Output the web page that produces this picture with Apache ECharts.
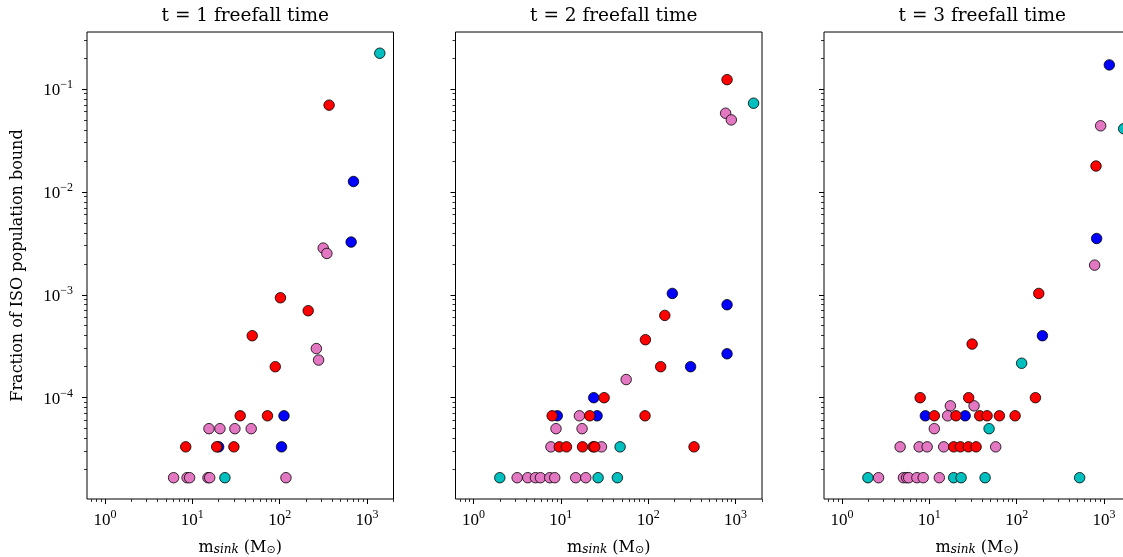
<!DOCTYPE html>
<html><head><meta charset="utf-8">
<script src="https://cdn.jsdelivr.net/npm/echarts@6/dist/echarts.min.js"></script>
<style>html,body{margin:0;padding:0;background:#fff}#c{width:1123px;height:557px}</style>
</head><body><div id="c"></div>
<script>
// ---------- data ----------
const panelTitles = ['t = 1 freefall time', 't = 2 freefall time', 't = 3 freefall time'];
const xTickValues = [1, 10, 100, 1000];
const yTickValues = [1e-4, 1e-3, 1e-2, 1e-1];
const yAxisTitle = 'Fraction of ISO population bound';

// t = 1
const t1Red = [[368,0.0695],[102,9.35e-4],[212,7.0e-4],[48.5,4.0e-4],[89,2.0e-4],[35.3,6.67e-5],[72.5,6.67e-5],[8.4,3.33e-5],[19,3.33e-5],[29.9,3.33e-5]];
const t1Blue = [[700,0.0126],[658,3.25e-3],[112,6.67e-5],[20,3.33e-5],[105,3.33e-5]];
const t1Cyan = [[1400,0.222],[23.6,1.67e-5]];
const t1Pink = [[315,2.84e-3],[347,2.52e-3],[263,3.0e-4],[279,2.32e-4],[15.5,5e-5],[20.7,5e-5],[30.7,5e-5],[47.2,5e-5],[6.1,1.67e-5],[8.7,1.67e-5],[9.3,1.67e-5],[15.1,1.67e-5],[15.8,1.67e-5],[118,1.67e-5]];

// t = 2
const t2Red = [[800,0.123],[155,6.3e-4],[93,3.66e-4],[139,2.0e-4],[31.3,1e-4],[7.95,6.67e-5],[21.4,6.67e-5],[92,6.67e-5],[9.6,3.33e-5],[11.6,3.33e-5],[17.7,3.33e-5],[23.4,3.33e-5],[24.4,3.33e-5],[335,3.33e-5]];
const t2Blue = [[189,1.03e-3],[800,8.0e-4],[800,2.67e-4],[306,2.0e-4],[23.8,1e-4],[9.1,6.67e-5],[26,6.67e-5]];
const t2Cyan = [[1610,0.0726],[47.7,3.33e-5],[2.0,1.67e-5],[26.7,1.67e-5],[44.4,1.67e-5]];
const t2Pink = [[770,0.058],[895,0.05],[56,1.5e-4],[16.3,6.67e-5],[8.8,5e-5],[17.5,5e-5],[7.7,3.33e-5],[29.2,3.33e-5],[3.16,1.67e-5],[4.18,1.67e-5],[5.12,1.67e-5],[5.84,1.67e-5],[7.47,1.67e-5],[8.51,1.67e-5],[14.8,1.67e-5],[19.3,1.67e-5]];

// t = 3
const t3Red = [[810,0.0178],[179,1.03e-3],[30.9,3.32e-4],[164,1e-4],[7.85,1e-4],[28.2,1e-4],[11.4,6.67e-5],[20.2,6.67e-5],[37.7,6.67e-5],[45.8,6.67e-5],[63.4,6.67e-5],[95.9,6.67e-5],[19.0,3.33e-5],[22.7,3.33e-5],[28,3.33e-5],[34.3,3.33e-5]];
const t3Blue = [[1150,0.171],[823,3.52e-3],[197,4.0e-4],[9.0,6.67e-5],[25.7,6.67e-5]];
const t3Cyan = [[1680,0.041],[114,2.16e-4],[48.3,5e-5],[1.98,1.67e-5],[19.0,1.67e-5],[23.1,1.67e-5],[43.5,1.67e-5],[526,1.67e-5]];
const t3Pink = [[915,0.0438],[781,1.94e-3],[17.4,8.33e-5],[32.5,8.33e-5],[16.2,6.67e-5],[11.4,5e-5],[4.63,3.33e-5],[7.64,3.33e-5],[9.44,3.33e-5],[14.6,3.33e-5],[57.5,3.33e-5],[2.62,1.67e-5],[5.05,1.67e-5],[5.5,1.67e-5],[5.8,1.67e-5],[7.2,1.67e-5],[8.5,1.67e-5],[13,1.67e-5]];

// ---------- styling / layout ----------
const FONT = 'Liberation Serif';
const TFONT = 'DejaVu Serif';
const COLORS = { red: '#ff0000', blue: '#0000ff', cyan: '#00bfbf', pink: '#e377c2' };
const X_MIN = 0.622, X_MAX = 2010, Y_MIN = 1.037e-5, Y_MAX = 0.357;
const GRID_LEFT = [87, 455.5, 824], GRID_TOP = 32, GRID_W = 306.5, GRID_H = 467;

const panels = [
  { blue: t1Blue, cyan: t1Cyan, pink: t1Pink, red: t1Red },
  { blue: t2Blue, cyan: t2Cyan, pink: t2Pink, red: t2Red },
  { blue: t3Blue, cyan: t3Cyan, pink: t3Pink, red: t3Red }
];

function minorTicks(lo, hi) {
  const out = [];
  for (let e = -6; e <= 4; e++) for (let m = 2; m <= 9; m++) {
    const v = m * Math.pow(10, e);
    if (v > lo && v < hi) out.push(v);
  }
  return out;
}
const xMinor = minorTicks(X_MIN, X_MAX);
const yMinor = minorTicks(Y_MIN, Y_MAX);

function supLabel(v) {
  const e = Math.round(Math.log10(v));
  return '{b|10}{s|' + (e < 0 ? '\u2212' + (-e) : String(e)) + '}';
}
const labelRich = {
  b: { fontFamily: FONT, fontSize: 17, color: '#000', lineHeight: 20, verticalAlign: 'bottom' },
  s: { fontFamily: FONT, fontSize: 12, color: '#000', lineHeight: 12, verticalAlign: 'top' }
};

const grid = [], xAxis = [], yAxis = [], series = [], title = [];
for (let i = 0; i < 3; i++) {
  grid.push({ left: GRID_LEFT[i], top: GRID_TOP, width: GRID_W, height: GRID_H, show: true,
              containLabel: false, outerBoundsMode: 'none',
              borderColor: '#000', borderWidth: 1, backgroundColor: '#fff' });
  title.push({ text: panelTitles[i], left: GRID_LEFT[i] + GRID_W / 2, top: 2,
               textAlign: 'center', textStyle: { fontFamily: TFONT, fontSize: 18.5, fontWeight: 'normal', color: '#000' } });
  // major x
  xAxis.push({ type: 'log', logBase: 10, gridIndex: i, min: X_MIN, max: X_MAX, position: 'bottom',
    axisLine: { show: false }, splitLine: { show: false },
    axisTick: { show: true, customValues: xTickValues, length: 5, lineStyle: { color: '#000', width: 1 } },
    axisLabel: { show: true, customValues: xTickValues, formatter: supLabel, rich: labelRich, margin: 10 },
    name: '{n|m}{i|sink}{n| (M}{o|\u2299}{n|)}', nameLocation: 'middle', nameGap: 37,
    nameTextStyle: { rich: {
      n: { fontFamily: TFONT, fontSize: 16, color: '#000', lineHeight: 20, verticalAlign: 'bottom' },
      i: { fontFamily: TFONT, fontSize: 12, fontStyle: 'italic', color: '#000', lineHeight: 14, verticalAlign: 'bottom' },
      o: { fontFamily: 'DejaVu Sans', fontSize: 11, color: '#000', lineHeight: 12, verticalAlign: 'bottom' }
    } }
  });
  // minor x
  xAxis.push({ type: 'log', logBase: 10, gridIndex: i, min: X_MIN, max: X_MAX, position: 'bottom',
    axisLine: { show: false }, splitLine: { show: false }, axisLabel: { show: false },
    axisTick: { show: true, customValues: xMinor, length: 3, lineStyle: { color: '#000', width: 0.8 } } });
  // major y
  yAxis.push({ type: 'log', logBase: 10, gridIndex: i, min: Y_MIN, max: Y_MAX, position: 'left',
    axisLine: { show: false }, splitLine: { show: false },
    axisTick: { show: true, customValues: yTickValues, length: 5, lineStyle: { color: '#000', width: 1 } },
    axisLabel: { show: i === 0, customValues: yTickValues, formatter: supLabel, rich: labelRich, margin: 14 },
    name: i === 0 ? yAxisTitle : '', nameLocation: 'middle', nameGap: 61, nameRotate: 90,
    nameTextStyle: { fontFamily: TFONT, fontSize: 16, color: '#000' }
  });
  // minor y
  yAxis.push({ type: 'log', logBase: 10, gridIndex: i, min: Y_MIN, max: Y_MAX, position: 'left',
    axisLine: { show: false }, splitLine: { show: false }, axisLabel: { show: false },
    axisTick: { show: true, customValues: yMinor, length: 3, lineStyle: { color: '#000', width: 0.8 } } });

  ['blue', 'cyan', 'pink', 'red'].forEach(function (c) {
    series.push({ type: 'scatter', xAxisIndex: 2 * i, yAxisIndex: 2 * i, data: panels[i][c],
      symbol: 'circle', symbolSize: 10.5, silent: true,
      itemStyle: { color: COLORS[c], borderColor: '#000', borderWidth: 0.8, opacity: 1 } });
  });
}

const chart = echarts.init(document.getElementById('c'), null, { renderer: 'canvas' });
chart.setOption({ animation: false, backgroundColor: '#fff', title, grid, xAxis, yAxis, series });
</script>
</body></html>
